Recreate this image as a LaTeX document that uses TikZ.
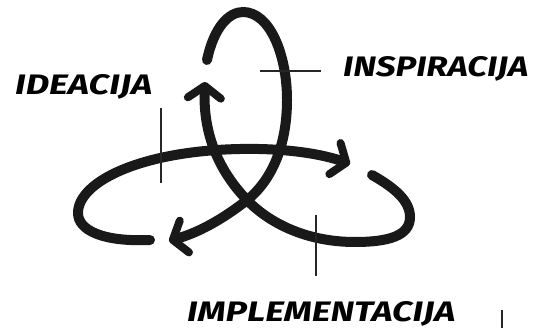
\documentclass[tikz,border=0pt]{standalone}
\usepackage{fontspec}
\setmainfont{Fira Sans}
\usetikzlibrary{arrows.meta}
\tikzset{
  band/.style={line width=10pt, line cap=round, draw=black!90},
  bandarrow/.style={band, -{Straight Barb[length=12pt, width=33pt, line width=8pt, round]}},
  tick/.style={line width=1.8pt, draw=black!85},
  lbl/.style={inner sep=0pt, font=\bfseries\itshape}
}
\begin{document}
\begin{tikzpicture}[x=1pt, y=-1pt]
\useasboundingbox[fill=white] (0,0) rectangle (534,328);
% labels
\node[lbl, anchor=base west] (ide) at (15,95) {\resizebox{137pt}{20pt}{IDEACIJA}};
\node[lbl, anchor=base west] (ins) at (343,77) {\resizebox{185pt}{20pt}{INSPIRACIJA}};
\node[lbl, anchor=base west] (imp) at (187,321) {\resizebox{268pt}{20pt}{IMPLEMENTACIJA}};
% leader coordinates
\coordinate (t1a) at (161,108); \coordinate (t1b) at (161,183);
\coordinate (t2a) at (260,71);  \coordinate (t2b) at (321,71);
\coordinate (t3a) at (316,215); \coordinate (t3b) at (316,276);
\coordinate (t4a) at (502,310); \coordinate (t4b) at (502,330);
% stroke anchors
\coordinate (s1) at (207,60);  \coordinate (e1) at (169,241);
\coordinate (s2) at (372,175); \coordinate (e2) at (205,82);
\coordinate (s3) at (150,240); \coordinate (e3) at (350,164);
% loop 1 (vertical)
\draw[bandarrow] (s1) .. controls (214,27) and (229,12) .. (243,12)
  .. controls (270,12) and (287,55) .. (287,100)
  .. controls (287,145) and (272,183) .. (242,204)
  .. controls (222,219) and (200,232) .. (e1);
% loop 2 (right)
\draw[bandarrow] (s2) .. controls (395,188) and (410,201) .. (410,217)
  .. controls (410,236) and (388,242) .. (355,242)
  .. controls (305,242) and (268,222) .. (247,200)
  .. controls (216,168) and (203,130) .. (e2);
% loop 3 (left)
\draw[bandarrow] (s3) .. controls (102,242) and (78,230) .. (78,213)
  .. controls (78,182) and (140,151) .. (240,149)
  .. controls (290,148) and (325,155) .. (e3);
% leader ticks
\draw[tick] (t1a) -- (t1b);
\draw[tick] (t2a) -- (t2b);
\draw[tick] (t3a) -- (t3b);
\draw[tick] (t4a) -- (t4b);
\end{tikzpicture}
\end{document}
